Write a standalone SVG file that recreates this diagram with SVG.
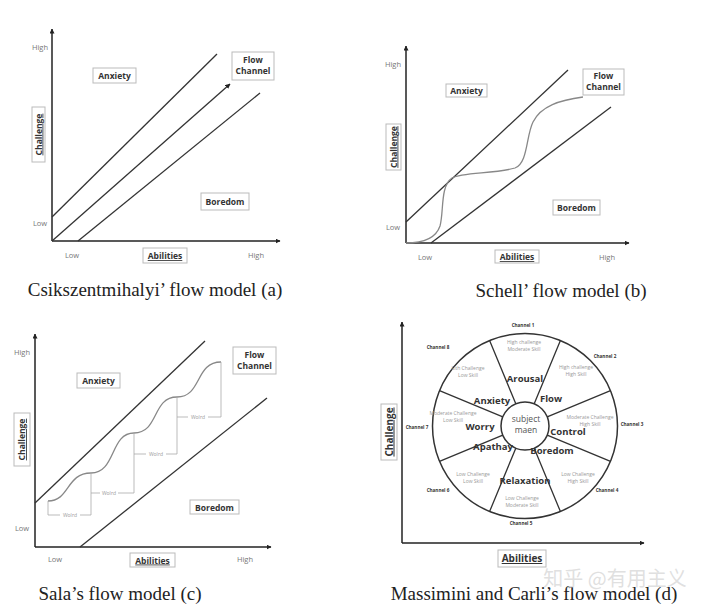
<svg xmlns="http://www.w3.org/2000/svg" width="707" height="614" viewBox="0 0 707 614">
<defs>
<marker id="arr" viewBox="0 0 10 10" refX="9" refY="5" markerWidth="5" markerHeight="5" orient="auto-start-reverse" markerUnits="userSpaceOnUse">
<path d="M0,0 L10,5 L0,10 z" fill="#222"/>
</marker>
</defs>
<style>
.ax{stroke:#222;stroke-width:1.5;fill:none}
.ln{stroke:#333;stroke-width:1.3;fill:none}
.cv{stroke:#888;stroke-width:1.3;fill:none}
.br{stroke:#aaa;stroke-width:0.8;fill:none}
.box{fill:#fff;stroke:#bbb;stroke-width:1}
.lb{font-family:"Open Sans","Liberation Sans",sans-serif;font-weight:bold;font-size:8.5px;fill:#333;text-anchor:middle}
.ul{text-decoration:underline}
.tk{font-family:"Open Sans","Liberation Sans",sans-serif;font-size:7.5px;fill:#777;text-anchor:middle}
.cap{font-family:"Liberation Serif",serif;font-size:19px;fill:#222;text-anchor:middle}
.wd{font-family:"Open Sans","Liberation Sans",sans-serif;font-size:5px;fill:#999;text-anchor:middle}
.ch{font-family:"Open Sans","Liberation Sans",sans-serif;font-weight:bold;font-size:4.6px;fill:#333;text-anchor:middle}
.sm{font-family:"Open Sans","Liberation Sans",sans-serif;font-size:5px;fill:#999;text-anchor:middle}
.st{font-family:"Open Sans","Liberation Sans",sans-serif;font-weight:bold;font-size:9.5px;fill:#333;text-anchor:middle}
.wm{font-family:"Noto Sans CJK SC","Noto Sans",sans-serif;font-size:20px;fill:#d8d8d8;fill-opacity:0.8;text-anchor:middle}
</style>
<rect width="707" height="614" fill="#fff"/>

<!-- Panel a -->
<g id="panel-a">
<g id="a-connectors">
<line class="ax" x1="52" y1="241" x2="52" y2="29" marker-end="url(#arr)"/>
<line class="ax" x1="52" y1="241" x2="280" y2="241" marker-end="url(#arr)"/>
<line class="ln" x1="52" y1="217" x2="217" y2="54"/>
<line class="ln" x1="52" y1="241" x2="230" y2="84" marker-end="url(#arr)"/>
<line class="ln" x1="78" y1="241" x2="260" y2="93"/>
</g>
<text class="tk" x="40" y="50">High</text>
<text class="tk" x="40" y="226">Low</text>
<text class="tk" x="72" y="258">Low</text>
<text class="tk" x="256" y="258">High</text>
<g id="a-challenge"><rect class="box" x="32" y="107" width="13" height="55"/><text class="lb ul" transform="translate(41.5,134.5) rotate(-90)">Challenge</text></g>
<g id="a-abilities"><rect class="box" x="143" y="248" width="44" height="15"/><text class="lb ul" x="165" y="259">Abilities</text></g>
<g id="a-anxiety"><rect class="box" x="93" y="68" width="43" height="15"/><text class="lb" x="114.5" y="78.5">Anxiety</text></g>
<g id="a-flow"><rect class="box" x="232" y="52" width="42" height="28"/><text class="lb" x="253" y="63">Flow</text><text class="lb" x="253" y="74">Channel</text></g>
<g id="a-boredom"><rect class="box" x="201" y="193" width="48" height="17"/><text class="lb" x="225" y="204.5">Boredom</text></g>
<text class="cap" x="155" y="296">Csikszentmihalyi’ flow model (a)</text>
</g>

<!-- Panel b -->
<g id="panel-b">
<g id="b-connectors">
<line class="ax" x1="406" y1="243" x2="406" y2="46" marker-end="url(#arr)"/>
<line class="ax" x1="406" y1="243" x2="629" y2="243" marker-end="url(#arr)"/>
<line class="ln" x1="406" y1="222" x2="568" y2="70"/>
<line class="ln" x1="431" y1="243" x2="611" y2="107"/>
<path class="cv" d="M406,243 C425,243 436,238 440,226 C444,212 440,186 452,178 C462,172 495,174 515,168 C528,163 526,136 533,122 C541,106 560,100 583,97"/>
</g>
<text class="tk" x="393" y="67">High</text>
<text class="tk" x="393" y="230">Low</text>
<text class="tk" x="425" y="260">Low</text>
<text class="tk" x="607" y="260">High</text>
<g id="b-challenge"><rect class="box" x="386" y="124" width="15" height="46"/><text class="lb ul" transform="translate(396.5,147) rotate(-90)">Challenge</text></g>
<g id="b-abilities"><rect class="box" x="495" y="250" width="44" height="13"/><text class="lb ul" x="517" y="260">Abilities</text></g>
<g id="b-anxiety"><rect class="box" x="446" y="84" width="41" height="13"/><text class="lb" x="466.5" y="93.5">Anxiety</text></g>
<g id="b-flow"><rect class="box" x="583" y="69" width="41" height="26"/><text class="lb" x="603.5" y="79">Flow</text><text class="lb" x="603.5" y="90">Channel</text></g>
<g id="b-boredom"><rect class="box" x="553" y="200" width="47" height="15"/><text class="lb" x="576.5" y="210.5">Boredom</text></g>
<text class="cap" x="561" y="297">Schell’ flow model (b)</text>
</g>

<!-- Panel c -->
<g id="panel-c">
<g id="c-connectors">
<line class="ax" x1="35" y1="547" x2="35" y2="334" marker-end="url(#arr)"/>
<line class="ax" x1="35" y1="547" x2="271" y2="547" marker-end="url(#arr)"/>
<line class="ln" x1="35" y1="503" x2="205" y2="341"/>
<line class="ln" x1="80" y1="547" x2="267" y2="398"/>
<path class="cv" d="M48,501 C70,501 66,473 91,473 C116,473 110,433 134,433 C159,433 152,397 177,397 C202,397 195,362 221,362"/>
<path class="br" d="M48,501 V515 H60 M80,515 H91 V473 M91,493 H100 M118,493 H134 V433 M134,454 H146 M166,454 H177 V397 M177,417 H188 M208,417 H221 V362"/>
</g>
<text class="wd" x="70" y="517">Wolrd</text>
<text class="wd" x="109" y="495">Wolrd</text>
<text class="wd" x="156" y="456">Wolrd</text>
<text class="wd" x="198" y="419">Wolrd</text>
<text class="tk" x="22" y="355">High</text>
<text class="tk" x="22" y="531">Low</text>
<text class="tk" x="55" y="562">Low</text>
<text class="tk" x="245" y="562">High</text>
<g id="c-challenge"><rect class="box" x="14" y="413" width="16" height="53"/><text class="lb ul" transform="translate(25,439.5) rotate(-90)">Challenge</text></g>
<g id="c-abilities"><rect class="box" x="130" y="553" width="45" height="14"/><text class="lb ul" x="152.5" y="563.5">Abilities</text></g>
<g id="c-anxiety"><rect class="box" x="77" y="373" width="43" height="15"/><text class="lb" x="98.5" y="383.5">Anxiety</text></g>
<g id="c-flow"><rect class="box" x="233" y="347" width="43" height="27"/><text class="lb" x="254.5" y="357.5">Flow</text><text class="lb" x="254.5" y="369">Channel</text></g>
<g id="c-boredom"><rect class="box" x="190" y="500" width="49" height="14"/><text class="lb" x="214.5" y="510.5">Boredom</text></g>
<text class="cap" x="120" y="600">Sala’s flow model (c)</text>
</g>

<!-- Panel d -->
<g id="panel-d">
<g id="d-connectors">
<line class="ax" x1="402" y1="543" x2="402" y2="322" marker-end="url(#arr)"/>
<line class="ax" x1="402" y1="543" x2="644" y2="543" marker-end="url(#arr)"/>
<circle cx="525" cy="426" r="92.5" fill="none" stroke="#333" stroke-width="1.5"/>
<circle cx="525" cy="426" r="24" fill="#fff" stroke="#333" stroke-width="1.5"/>
<path class="ln" stroke-width="1.5" d="M515.8,403.8 L489.6,340.5 M534.2,403.8 L560.4,340.5 M547.2,416.8 L610.5,390.6 M547.2,435.2 L610.5,461.4 M534.2,448.2 L560.4,511.5 M515.8,448.2 L489.6,511.5 M502.8,435.2 L439.5,461.4 M502.8,416.8 L439.5,390.6"/>
</g>
<g id="d-challenge"><rect class="box" x="381" y="404" width="16" height="56"/><text class="lb ul" style="font-size:10px" transform="translate(392.5,432) rotate(-90)">Challenge</text></g>
<g id="d-abilities"><rect class="box" x="498" y="550" width="48" height="17"/><text class="lb ul" style="font-size:10px" x="522" y="562">Abilities</text></g>
<g id="d-center"><text class="sm" style="font-size:8.5px;fill:#555" x="526" y="422">subject</text><text class="sm" style="font-size:8.5px;fill:#555" x="526" y="433">maen</text></g>
<g id="d-ch1"><text class="ch" x="523" y="327">Channel 1</text><text class="sm" x="524" y="344">High challenge</text><text class="sm" x="524" y="351">Moderate Skill</text><text class="st" x="525" y="382">Arousal</text></g>
<g id="d-ch2"><text class="ch" x="605" y="358">Channel 2</text><text class="sm" x="576" y="369">High challenge</text><text class="sm" x="576" y="376">High Skill</text><text class="st" x="551" y="402">Flow</text></g>
<g id="d-ch3"><text class="ch" x="632" y="426">Channel 3</text><text class="sm" x="590" y="419">Moderate Challenge</text><text class="sm" x="590" y="426">High Skill</text><text class="st" x="568" y="435">Control</text></g>
<g id="d-ch4"><text class="ch" x="607" y="492">Channel 4</text><text class="sm" x="578" y="476">Low Challenge</text><text class="sm" x="578" y="483">High Skill</text><text class="st" x="552" y="454">Boredom</text></g>
<g id="d-ch5"><text class="ch" x="521" y="525">Channel 5</text><text class="sm" x="522" y="500">Low Challenge</text><text class="sm" x="522" y="507">Moderate Skill</text><text class="st" x="525" y="484">Relaxation</text></g>
<g id="d-ch6"><text class="ch" x="438" y="492">Channel 6</text><text class="sm" x="473" y="476">Low Challenge</text><text class="sm" x="473" y="483">Low Skill</text><text class="st" x="493" y="450">Apathay</text></g>
<g id="d-ch7"><text class="ch" x="417" y="429">Channel 7</text><text class="sm" x="453" y="415">Moderate Challenge</text><text class="sm" x="453" y="422">Low Skill</text><text class="st" x="480" y="430">Worry</text></g>
<g id="d-ch8"><text class="ch" x="438" y="349">Channel 8</text><text class="sm" x="468" y="370">Lith Challenge</text><text class="sm" x="468" y="377">Low Skill</text><text class="st" x="492" y="404">Anxiety</text></g>
<text class="cap" x="534" y="600">Massimini and Carli’s flow model (d)</text>
<text class="wm" x="615" y="586">知乎 @有用主义</text>
</g>
</svg>
